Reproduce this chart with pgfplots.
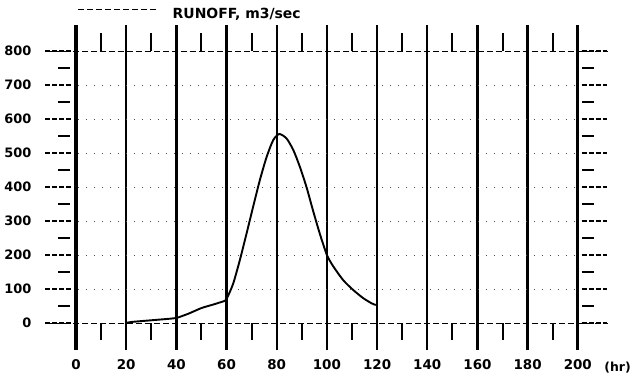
\documentclass[border=0pt]{standalone}
\usepackage{pgfplots}
\pgfplotsset{compat=1.18}
\usepackage{fontspec}
\setmainfont{DejaVu Sans}
\begin{document}
\begin{tikzpicture}
\begin{axis}[
  at={(0,0)}, anchor=south west,
  scale only axis, width=562bp, height=325bp,
  xmin=-12, xmax=212, ymin=-80, ymax=876,
  clip=false,
  axis line style={draw=none},
  major tick length=0pt, tick style={draw=none},
  xtick={0,20,...,200},
  ytick={100,200,...,700},
  extra y ticks={0,800},
  extra y tick style={major y grid style={black, line width=0.9bp, dash pattern=on 6bp off 3bp}},
  xmajorgrids, ymajorgrids,
  major x grid style={black, line width=2.4bp},
  major y grid style={black!70, line width=0.8bp, dash pattern=on 1bp off 7bp},
  /pgf/number format/assume math mode=true,
  yticklabel style={font=\fontsize{13}{13}\selectfont\bfseries, xshift=-11bp},
  xticklabel style={font=\fontsize{13.5}{13.5}\selectfont\bfseries, yshift=-6bp},
  xlabel={(hr)},
  xlabel style={at={(axis description cs:1,0)}, anchor=west, xshift=-7bp, yshift=-17bp, font=\fontsize{12.5}{12.5}\selectfont\bfseries},
  legend style={at={(axis description cs:0.057,1.035)}, anchor=west, draw=none, fill=none,
    font=\fontsize{14}{14}\selectfont\bfseries, inner sep=0pt},
  legend image code/.code={\draw[#1] (0cm,5bp) -- (78bp,5bp); \path (92bp,0);},
]
% decorations on left and right
\pgfplotsinvokeforeach{0,100,...,800}{
  \draw[black, line width=1.2bp, dash pattern=on 5bp off 2bp] (axis cs:-12.3,#1) -- (axis cs:-1.4,#1);
  \draw[black, line width=1.2bp, dash pattern=on 5bp off 2bp] (axis cs:201.5,#1) -- (axis cs:211.6,#1);
}
\pgfplotsinvokeforeach{50,150,...,750}{
  \draw[black, line width=1.1bp] (axis cs:-7,#1) -- (axis cs:-2.4,#1);
  \draw[black, line width=1.1bp] (axis cs:201.5,#1) -- (axis cs:206.5,#1);
}
\pgfplotsinvokeforeach{10,30,...,190}{
  \draw[black, line width=2bp] (axis cs:#1,800) -- (axis cs:#1,852);
  \draw[black, line width=2bp] (axis cs:#1,0) -- (axis cs:#1,-50);
}
\draw[black, line width=3.4bp] (axis cs:0,-80) -- (axis cs:0,876);
\draw[black, line width=3.2bp] (axis cs:200,-80) -- (axis cs:200,876);

\addlegendimage{black, line width=0.6bp, dash pattern=on 6bp off 3bp}
\addlegendentry{RUNOFF, m3/sec}

\addplot[black, line width=1.9bp, smooth, tension=0.4, forget plot] coordinates {
(20,0) (22,3) (30,8) (38,13) (40,15) (41,17) (45,28) (50,44) (55,55) (58,62)
(59.5,66) (60.5,78) (62.7,117) (65.3,185) (68,264) (70.6,342) (73.3,421) (76,489)
(78.6,538) (81,556) (83.9,543) (86.6,509) (89.2,460) (91.9,399) (94.5,330)
(97.2,262) (100,200) (102.5,167) (106.5,126) (110.5,97) (114.5,73) (117.8,58) (119.5,53)
};
\end{axis}
\pgfresetboundingbox
\useasboundingbox (-45.9bp,-29.8bp) rectangle (588.1bp,350.2bp);
\end{tikzpicture}
\end{document}
